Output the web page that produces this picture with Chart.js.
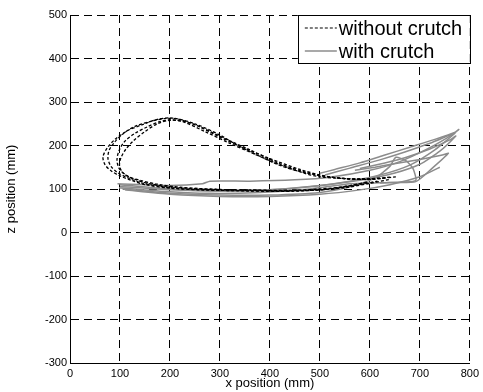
<!DOCTYPE html>
<html>
<head>
<meta charset="utf-8">
<script src="https://cdn.jsdelivr.net/npm/chart.js@4"></script>
<style>
html, body { margin: 0; padding: 0; background: #fff; }
#wrap { width: 483px; height: 392px; }
</style>
</head>
<body>
<div id="wrap"><canvas id="traj"></canvas></div>
<script>
// series names (legend)
const seriesNames = ['without crutch', 'with crutch'];

// x ticks / z ticks
const xTicks = [0, 100, 200, 300, 400, 500, 600, 700, 800];
const zTicks = [-300, -200, -100, 0, 100, 200, 300, 400, 500];

// without crutch - dashed loops (x mm, z mm)
const noCrutchX1 = [652,600,550,500,467,400,336,300,250,205,175,145,115,90,75,66,70,82,100,125,150,200,260,350,450,550,600,640];
const noCrutchZ1 = [128,122,124,128,137,165,200,224,250,263,260,248,234,214,195,174,156,142,130,119,110,102,98,96,95,103,113,122];
const noCrutchX2 = [630,580,530,480,420,360,310,260,215,190,160,130,105,88,78,76,82,95,115,140,170,220,300,400,500,570,615];
const noCrutchZ2 = [125,122,126,136,158,190,216,243,261,262,255,244,226,206,188,170,152,138,126,115,108,101,97,95,98,108,118];
const noCrutchX3 = [610,560,510,460,400,340,290,245,205,180,155,130,110,98,94,98,110,130,160,200,260,350,450,540,590];
const noCrutchZ3 = [124,123,130,145,170,198,225,250,259,255,243,228,210,188,166,148,133,122,112,105,100,98,97,104,114];
const noCrutchX4 = [640,590,540,490,430,370,320,270,225,200,175,150,128,112,102,99,104,118,140,175,220,300,400,500,560,600];
const noCrutchZ4 = [127,123,125,133,150,180,205,232,255,258,250,232,212,192,172,155,140,128,120,111,104,99,96,98,108,117];

// with crutch - solid gray traces
const crutchX1 = [95,200,265,280,360,450,520,600,660,720,765,778,772,730,680,630,580,530,500];
const crutchZ1 = [112,108,112,118,118,121,127,143,163,195,225,237,231,214,196,178,160,145,136];
const crutchX2 = [100,200,300,400,480,560,620,680,730,770,760,720,670,620,560,510];
const crutchZ2 = [106,98,95,98,105,118,132,155,190,228,224,205,185,167,148,132];
const crutchX3 = [98,180,280,380,480,560,640,692,725,757,745,700,658,610,570];
const crutchZ3 = [103,95,90,92,100,112,115,117,148,182,178,168,160,150,143];
const crutchX4 = [105,200,300,400,500,560,610,640,652,672,686,692,670,620];
const crutchZ4 = [100,90,86,86,92,105,125,152,173,165,148,120,116,114];
const crutchX5 = [100,200,300,400,500,580,650,700,740,772,762,720,670,630,580];
const crutchZ5 = [110,100,96,98,108,120,137,157,187,222,214,192,172,160,147];
const crutchX6 = [110,200,300,400,500,580,640,700,740];
const crutchZ6 = [98,88,83,83,88,98,110,128,150];

function pts(xs, zs) {
    return xs.map((x, i) => ({x: x, y: zs[i]}));
}

var noCrutch = [[noCrutchX1, noCrutchZ1], [noCrutchX2, noCrutchZ2], [noCrutchX3, noCrutchZ3], [noCrutchX4, noCrutchZ4]];
var crutch = [[crutchX1, crutchZ1], [crutchX2, crutchZ2], [crutchX3, crutchZ3], [crutchX4, crutchZ4], [crutchX5, crutchZ5], [crutchX6, crutchZ6]];

var datasets = [];
noCrutch.forEach(function(s) {
    datasets.push({
        label: seriesNames[0],
        data: pts(s[0], s[1]),
        showLine: true,
        borderColor: '#000',
        borderWidth: 1.3,
        borderDash: [3, 2],
        pointRadius: 0,
        tension: 0.3
    });
});
crutch.forEach(function(s) {
    datasets.push({
        label: seriesNames[1],
        data: pts(s[0], s[1]),
        showLine: true,
        borderColor: '#8c8c8c',
        borderWidth: 1.5,
        pointRadius: 0,
        tension: 0.2
    });
});

// boxed legend, top right of the plot area
const boxLegend = {
    id: 'box_legend',
    afterDraw: (chart) => {
        const ctx = chart.ctx;
        const {top, right} = chart.chartArea;
        const w = 172, h = 48;
        const left = right - w;
        ctx.save();
        ctx.fillStyle = '#fff';
        ctx.fillRect(left, top, w, h);
        ctx.strokeStyle = '#000';
        ctx.lineWidth = 1;
        ctx.strokeRect(Math.round(left) + 0.5, Math.round(top) + 0.5, w, h);
        ctx.font = '20px "Liberation Sans", Arial, sans-serif';
        ctx.textBaseline = 'middle';
        ctx.fillStyle = '#000';
        var styles = [
            {color: '#000', dash: [3, 2], width: 1.2},
            {color: '#8c8c8c', dash: [], width: 1.5}
        ];
        seriesNames.forEach(function(name, i) {
            var y = top + 13 + i * 23;
            ctx.beginPath();
            ctx.setLineDash(styles[i].dash);
            ctx.strokeStyle = styles[i].color;
            ctx.lineWidth = styles[i].width;
            ctx.moveTo(left + 7, y);
            ctx.lineTo(left + 39, y);
            ctx.stroke();
            ctx.setLineDash([]);
            ctx.fillText(name, left + 41, y + 1);
        });
        ctx.restore();
    }
};

var tickFont = {family: '"Liberation Sans", Arial, sans-serif', size: 11};
var titleFont = {family: '"Liberation Sans", Arial, sans-serif', size: 13};

var ctx = document.getElementById('traj').getContext('2d');
var myChart = new Chart(ctx, {
    type: 'scatter',
    data: { datasets: datasets },
    options: {
        responsive: true,
        maintainAspectRatio: false,
        animation: false,
        layout: { padding: {top: 15, right: 8, left: 0, bottom: 0} },
        plugins: {
            legend: { display: false },
            tooltip: { enabled: false }
        },
        scales: {
            x: {
                type: 'linear',
                min: 0, max: 800,
                afterBuildTicks: (scale) => { scale.ticks = xTicks.map(v => ({value: v})); },
                afterFit: (scale) => { scale.height = 29; },
                ticks: { color: '#000', font: tickFont, padding: 4, maxRotation: 0 },
                grid: { color: '#000', lineWidth: 1, drawTicks: false },
                border: { color: '#000', width: 1, dash: [8, 5] },
                title: { display: true, text: 'x position (mm)', color: '#000', font: titleFont, padding: {top: 0, bottom: 1} }
            },
            y: {
                type: 'linear',
                min: -300, max: 500,
                afterBuildTicks: (scale) => { scale.ticks = zTicks.map(v => ({value: v})); },
                afterFit: (scale) => { scale.width = 70; },
                ticks: { color: '#000', font: tickFont, padding: 3 },
                grid: { color: '#000', lineWidth: 1, drawTicks: false },
                border: { color: '#000', width: 1, dash: [8, 5] },
                title: { display: true, text: 'z position (mm)', color: '#000', font: titleFont, padding: {top: 4, bottom: 0} }
            }
        }
    },
    plugins: [boxLegend]
});
</script>
</body>
</html>
